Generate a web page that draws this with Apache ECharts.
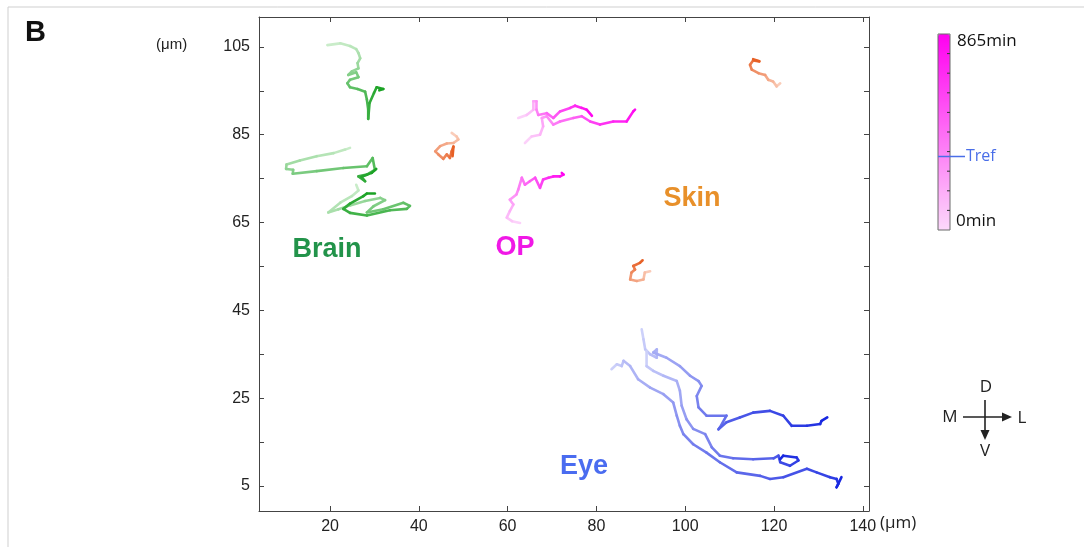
<!DOCTYPE html>
<html>
<head>
<meta charset="utf-8">
<script src="https://cdn.jsdelivr.net/npm/echarts@6/dist/echarts.min.js"></script>
<style>
  html, body { margin: 0; padding: 0; background: #fff; }
  #chart { width: 1084px; height: 547px; }
</style>
</head>
<body>
<div id="chart"></div>
<script>
// 轴刻度
const xTicks = [20, 40, 60, 80, 100, 120, 140];
const yTicks = [5, 15, 25, 35, 45, 55, 65, 75, 85, 95, 105];
const yLabels = [5, 25, 45, 65, 85, 105];
const timeRange = [0, 865];

// 轨迹 (μm), 按时间顺序
const brainTrack1 = [[19.4,105.4],[22.3,105.8],[24.5,105.2],[25.9,104.5],[26.4,103.6],[26.8,102.4],[26.2,101.3],[26.4,100.1],[24.9,99.4],[24.1,98.6],[25.9,99.2],[26.4,98.1],[24.5,97.5],[23.9,96.7],[24.5,95.8],[26.2,95.4],[27.9,94.8],[28.3,93.0],[28.6,90.7],[28.6,88.6],[28.9,92.2],[29.9,94.5],[30.5,95.8],[32.0,95.4],[31.1,95.1]];
const brainTrack2 = [[24.5,82.0],[23.4,81.6],[20.8,80.8],[17.0,80.1],[13.2,79.1],[10.2,78.2],[10.1,77.2],[11.7,77.0],[11.6,76.1],[17.0,76.7],[23.0,77.4],[28.3,77.8],[29.6,79.7],[30.1,77.0],[28.3,75.9],[26.4,75.5],[27.9,74.4],[27.1,75.4],[29.4,76.3],[30.4,77.2]];
const brainTrack3 = [[25.9,73.6],[26.4,72.3],[24.9,71.0],[22.3,69.5],[19.6,67.3],[21.9,68.0],[24.5,68.9],[27.9,69.9],[31.3,70.6],[32.4,70.1],[29.8,68.7],[28.3,67.3],[32.0,68.0],[36.5,69.5],[38.0,68.8],[37.3,68.1],[33.5,67.8],[28.3,66.6],[24.5,67.2],[23.0,68.1],[24.5,69.3],[27.5,71.0],[28.3,71.6],[30.1,71.6]];
const opTrack1 = [[63.9,83.1],[65.4,84.6],[67.3,85.0],[68.0,86.9],[67.7,88.8],[68.8,89.2],[70.3,87.3],[71.8,88.0],[74.8,88.8],[76.7,89.2],[78.6,88.0],[80.8,87.3],[83.8,88.0],[86.8,88.0],[88.3,90.3],[88.7,90.7]];
const opTrack2 = [[62.4,88.8],[64.3,89.5],[65.8,90.7],[65.8,92.6],[66.5,92.6],[66.5,90.7],[66.9,89.5],[68.8,89.9],[70.3,88.8],[71.8,90.3],[74.1,91.1],[75.2,91.6],[76.7,91.1],[77.8,90.7],[79.0,89.3]];
const opTrack3 = [[62.8,64.9],[61.0,65.3],[59.8,66.1],[60.5,67.6],[61.3,69.1],[60.5,70.2],[62.0,71.4],[62.4,72.5],[63.2,75.2],[63.9,73.6],[65.0,74.4],[66.2,75.2],[67.3,72.9],[68.0,74.8],[69.2,75.2],[70.3,75.5],[71.8,75.5],[72.6,75.9],[72.2,76.3]];
const skinTrack1 = [[47.4,85.4],[48.5,84.6],[48.9,83.9],[47.8,83.1],[46.3,83.0],[44.8,82.4],[43.7,81.2],[44.4,80.5],[45.5,79.5],[46.3,80.5],[47.0,79.7],[47.4,81.2],[47.8,82.3],[47.6,80.1]];
const skinTrack2 = [[121.4,96.7],[120.6,96.0],[119.8,97.1],[118.7,97.5],[118.0,98.6],[116.5,99.0],[115.0,99.8],[114.6,100.9],[115.3,101.9],[116.7,101.7],[115.3,102.2]];
const skinTrack3 = [[92.1,53.9],[90.9,53.6],[90.6,52.0],[89.1,51.7],[87.6,52.0],[87.9,53.6],[88.7,54.3],[88.3,55.1],[89.8,55.8],[90.4,56.4]];
const eyeTrack1 = [[90.2,40.7],[90.6,38.4],[91.0,36.1],[92.1,35.0],[93.6,34.2],[93.6,36.1],[92.8,35.4],[95.8,34.2],[98.8,32.3],[101.1,30.1],[103.0,28.9],[103.7,27.8],[102.6,25.5],[103.0,22.9],[104.8,21.0],[109.3,21.0],[107.8,18.3],[107.5,17.9],[109.3,19.5],[112.3,20.6],[115.3,21.7],[119.1,22.1],[122.1,21.0],[124.0,18.7],[127.4,18.7],[130.4,19.1],[130.7,19.8],[132.0,20.6]];
const eyeTrack2 = [[91.3,35.8],[91.3,32.3],[92.8,31.2],[95.1,30.1],[98.1,28.9],[98.8,26.7],[99.2,23.3],[100.3,20.2],[101.8,18.0],[104.5,16.8],[106.0,13.8],[107.8,11.9],[110.8,11.3],[115.3,11.1],[119.9,11.3],[121.0,11.9],[121.4,10.4],[123.6,9.6],[125.5,10.8],[125.1,11.5],[122.1,11.9],[121.4,11.1]];
const eyeTrack3 = [[83.4,31.6],[84.6,32.7],[85.7,32.3],[86.1,33.5],[87.6,32.3],[89.4,29.3],[92.1,27.4],[95.1,25.9],[97.3,24.0],[98.1,21.0],[98.8,18.7],[99.6,16.8],[101.8,14.5],[104.8,12.6],[107.8,10.4],[111.6,8.1],[116.9,7.3],[119.1,6.6],[122.1,7.0],[127.4,8.9],[129.6,8.1],[132.6,7.0],[134.1,6.6],[134.5,5.5],[134.1,4.7],[135.2,7.0]];

// 每组颜色 (浅 -> 深)
const brainColors = ['#cdeecd', '#16a020'];
const opColors = ['#fcd8fa', '#ff00f0'];
const skinColors = ['#fbd2c0', '#e65a1e'];
const eyeColors = ['#d0d4fa', '#1424e0'];

// 把轨迹拆成线段 [x1, y1, x2, y2, t], t 按采样顺序
function toSegments(tracks) {
  const segs = [];
  tracks.forEach(track => {
    const n = track.length;
    for (let i = 0; i < n - 1; i++) {
      const t = timeRange[1] * (i + 0.5) / (n - 1);
      segs.push([track[i][0], track[i][1], track[i + 1][0], track[i + 1][1], t]);
    }
  });
  return segs;
}

function renderSegment(params, api) {
  const p1 = api.coord([api.value(0), api.value(1)]);
  const p2 = api.coord([api.value(2), api.value(3)]);
  return {
    type: 'line',
    shape: { x1: p1[0], y1: p1[1], x2: p2[0], y2: p2[1] },
    style: { stroke: api.visual('color'), lineWidth: 2.6, lineCap: 'round' }
  };
}

function trackSeries(name, tracks) {
  return {
    type: 'custom',
    name: name,
    renderItem: renderSegment,
    encode: { x: [0, 2], y: [1, 3] },
    data: toSegments(tracks),
    silent: true
  };
}

const chart = echarts.init(document.getElementById('chart'));

const axisLineStyle = { color: '#444', width: 1 };
const tickFont = { color: '#222', fontSize: 16, fontFamily: 'Liberation Sans' };

// 色条上的小刻度
const barTicks = [];
for (let k = 1; k < 10; k++) {
  const y = 34 + k * 19.6;
  barTicks.push({ type: 'line', shape: { x1: 947, y1: y, x2: 950, y2: y }, style: { stroke: '#333', lineWidth: 1 }, z: 100 });
}

const compassFont = { fontSize: 17, fontFamily: 'Open Sans', fill: '#222', align: 'center', verticalAlign: 'middle' };

chart.setOption({
  animation: false,
  backgroundColor: '#fff',
  grid: { left: 259, right: 215, top: 17, bottom: 36 },
  xAxis: [{
    type: 'value', min: 4, max: 141.4, position: 'bottom',
    axisLine: { onZero: false, lineStyle: axisLineStyle },
    axisTick: { inside: true, length: 5, customValues: xTicks, lineStyle: axisLineStyle },
    axisLabel: Object.assign({ customValues: xTicks, margin: 8 }, tickFont),
    splitLine: { show: false }
  }, {
    type: 'value', min: 4, max: 141.4, position: 'top',
    axisLine: { onZero: false, lineStyle: axisLineStyle },
    axisTick: { inside: true, length: 5, customValues: xTicks, lineStyle: axisLineStyle },
    axisLabel: { show: false },
    splitLine: { show: false }
  }],
  yAxis: [{
    type: 'value', min: -0.7, max: 111.8, position: 'left',
    axisLine: { show: true, onZero: false, lineStyle: axisLineStyle },
    axisTick: { show: true, inside: true, length: 5, customValues: yTicks, lineStyle: axisLineStyle },
    axisLabel: Object.assign({ customValues: yLabels, margin: 9 }, tickFont),
    splitLine: { show: false }
  }, {
    type: 'value', min: -0.7, max: 111.8, position: 'right',
    axisLine: { show: true, onZero: false, lineStyle: axisLineStyle },
    axisTick: { show: true, inside: true, length: 5, customValues: yTicks, lineStyle: axisLineStyle },
    axisLabel: { show: false },
    splitLine: { show: false }
  }],
  visualMap: [
    { type: 'continuous', show: false, seriesIndex: 0, dimension: 4, min: timeRange[0], max: timeRange[1], inRange: { color: brainColors } },
    {
      type: 'continuous', show: true, seriesIndex: 1, dimension: 4, min: timeRange[0], max: timeRange[1],
      inRange: { color: opColors }, left: 938, top: 34, itemWidth: 12, itemHeight: 196,
      padding: 0, calculable: false, text: null, showLabel: false, hoverLink: false
    },
    { type: 'continuous', show: false, seriesIndex: 2, dimension: 4, min: timeRange[0], max: timeRange[1], inRange: { color: skinColors } },
    { type: 'continuous', show: false, seriesIndex: 3, dimension: 4, min: timeRange[0], max: timeRange[1], inRange: { color: eyeColors } }
  ],
  series: [
    trackSeries('Brain', [brainTrack1, brainTrack2, brainTrack3]),
    trackSeries('OP', [opTrack1, opTrack2, opTrack3]),
    trackSeries('Skin', [skinTrack1, skinTrack2, skinTrack3]),
    trackSeries('Eye', [eyeTrack1, eyeTrack2, eyeTrack3])
  ],
  graphic: [
    { type: 'rect', shape: { x: 8, y: 7, width: 1200, height: 700 }, style: { fill: 'none', stroke: '#cfcfcf', lineWidth: 1 }, z: -10, silent: true },
    { type: 'text', left: 25, top: 18, style: { text: 'B', fontSize: 29, fontWeight: 'bold', fontFamily: 'Liberation Sans', fill: '#111' } },
    { type: 'text', left: 156, top: 37, style: { text: '(μm)', fontSize: 15, fontFamily: 'Liberation Sans', fill: '#222' } },
    { type: 'text', left: 880, top: 515, style: { text: '(μm)', fontSize: 17, fontFamily: 'Open Sans', fill: '#222' } },
    // 分组标签
    { type: 'text', x: 327, y: 250, style: { text: 'Brain', fontSize: 27, fontWeight: 'bold', fontFamily: 'Liberation Sans', fill: '#22934a', align: 'center', verticalAlign: 'middle' } },
    { type: 'text', x: 515, y: 248, style: { text: 'OP', fontSize: 27, fontWeight: 'bold', fontFamily: 'Liberation Sans', fill: '#f018e6', align: 'center', verticalAlign: 'middle' } },
    { type: 'text', x: 692, y: 199, style: { text: 'Skin', fontSize: 27, fontWeight: 'bold', fontFamily: 'Liberation Sans', fill: '#e8902a', align: 'center', verticalAlign: 'middle' } },
    { type: 'text', x: 584, y: 467, style: { text: 'Eye', fontSize: 27, fontWeight: 'bold', fontFamily: 'Liberation Sans', fill: '#4a6cf0', align: 'center', verticalAlign: 'middle' } },
    // 色条边框与标注
    { type: 'rect', shape: { x: 938, y: 34, width: 12, height: 196 }, style: { fill: 'none', stroke: '#6a6a6a', lineWidth: 1 }, z: 100 },
    ...barTicks,
    { type: 'line', shape: { x1: 938, y1: 156.5, x2: 965, y2: 156.5 }, style: { stroke: '#4a6ee8', lineWidth: 1.5 }, z: 101 },
    { type: 'text', x: 966, y: 156, style: { text: 'Tref', fontSize: 16, fontFamily: 'Open Sans', fill: '#4a6ee8', verticalAlign: 'middle' }, z: 101 },
    { type: 'text', x: 957, y: 41, style: { text: '865min', fontSize: 17, fontFamily: 'Open Sans', fill: '#111', verticalAlign: 'middle' } },
    { type: 'text', x: 956, y: 221, style: { text: '0min', fontSize: 17, fontFamily: 'Open Sans', fill: '#111', verticalAlign: 'middle' } },
    // 方向指示
    { type: 'line', shape: { x1: 985, y1: 400, x2: 985, y2: 432 }, style: { stroke: '#222', lineWidth: 1.6 } },
    { type: 'polygon', shape: { points: [[980.5, 430], [989.5, 430], [985, 440]] }, style: { fill: '#222' } },
    { type: 'line', shape: { x1: 963, y1: 417, x2: 1004, y2: 417 }, style: { stroke: '#222', lineWidth: 1.6 } },
    { type: 'polygon', shape: { points: [[1002, 412.5], [1002, 421.5], [1012, 417]] }, style: { fill: '#222' } },
    { type: 'text', x: 986, y: 387, style: Object.assign({ text: 'D' }, compassFont) },
    { type: 'text', x: 950, y: 417, style: Object.assign({ text: 'M' }, compassFont) },
    { type: 'text', x: 1022, y: 418, style: Object.assign({ text: 'L' }, compassFont) },
    { type: 'text', x: 985, y: 451, style: Object.assign({ text: 'V' }, compassFont) }
  ]
});
</script>
</body>
</html>
